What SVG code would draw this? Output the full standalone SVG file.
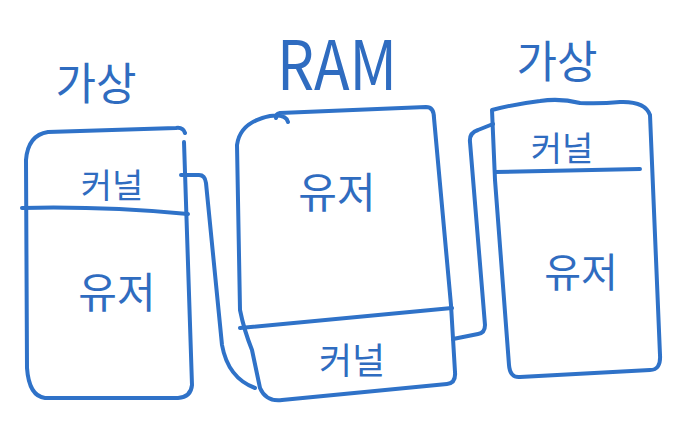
<svg xmlns="http://www.w3.org/2000/svg" width="690" height="426" viewBox="0 0 690 426">
<style>
.ln{fill:none;stroke:#2f72c8;stroke-width:4;stroke-linecap:round;stroke-linejoin:round}
.t{fill:#2f6cc0;font-family:"Noto Sans CJK KR","Noto Sans",sans-serif;text-anchor:middle}
</style>
<rect width="690" height="426" fill="#ffffff"/>
<g id="label-left"><text class="t" x="96" y="100" font-size="44">가상</text></g>
<g id="label-ram"><text class="t" x="337" y="90" font-size="68" font-family="Liberation Sans, sans-serif" textLength="120" lengthAdjust="spacingAndGlyphs">RAM</text></g>
<g id="label-right"><text class="t" x="557" y="78" font-size="44">가상</text></g>
<g id="left-box">
<path class="ln" d="M185,133 Q183,127 176,128 L48,132 Q28,135 26,160 L27,368 Q29,396 45,398 L178,398 Q191,397 192,385 L184,142"/>
<path class="ln" d="M22,208 Q100,206 188,214"/>
<text class="t" x="112" y="198" font-size="34">커널</text>
<text class="t" x="117" y="308" font-size="42">유저</text>
</g>
<g id="ram-box">
<path class="ln" d="M288,122 Q286,114 270,116 Q240,122 237,145 L240,310 Q244,330 252,350 L260,388 Q266,402 282,400 L447,384 Q456,383 455,372 L451,305 L434,118 Q434,107 426,107 L280,113 Q275,114 276,118"/>
<path class="ln" d="M240,328 Q350,318 452,308"/>
<text class="t" x="337" y="208" font-size="42">유저</text>
<text class="t" x="352" y="374" font-size="36">커널</text>
</g>
<g id="right-box">
<path class="ln" d="M492,110 Q515,104 540,101 Q560,98 580,103 Q600,104 620,102 Q645,101 650,115 L660,355 Q661,370 650,370 L520,377 Q510,378 509,365 L495,180 Z"/>
<path class="ln" d="M495,172 L640,169"/>
<text class="t" x="562" y="161" font-size="34">커널</text>
<text class="t" x="581" y="287" font-size="40">유저</text>
</g>
<g id="connectors">
<path class="ln" d="M181,175 L199,175 Q205,175 206,183 L222,345 Q228,378 255,388"/>
<path class="ln" d="M453,339 L478,334 Q485,333 485,325 L470,142 Q469,133 478,130 L493,124"/>
</g>
</svg>
